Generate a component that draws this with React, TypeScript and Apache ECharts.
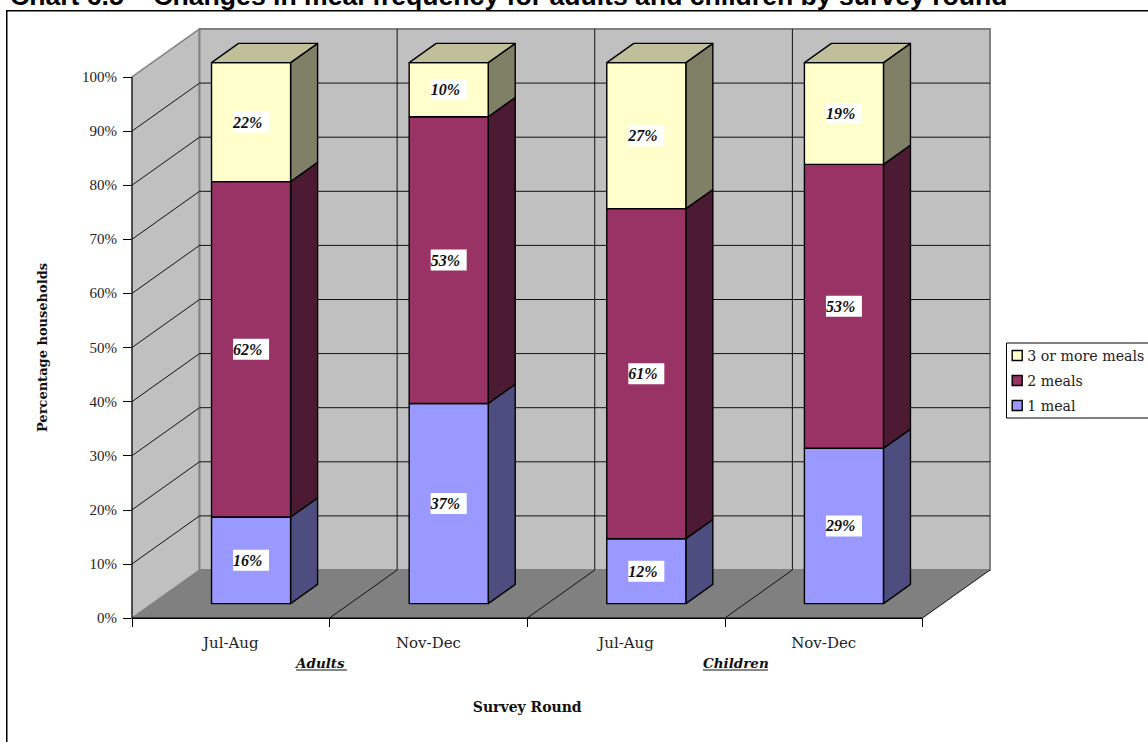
import React, { useEffect, useRef } from "react";
import * as echarts from "echarts";

const rounds = ["Jul-Aug", "Nov-Dec", "Jul-Aug", "Nov-Dec"];
const oneMeal = [16, 37, 12, 29];
const twoMeals = [62, 53, 61, 53];
const threeOrMore = [22, 10, 27, 19];
const percentTicks = [0, 10, 20, 30, 40, 50, 60, 70, 80, 90, 100];
const legendOrder = ["3 or more meals", "2 meals", "1 meal"];

// Depth of the box the columns stand in, in pixels.
const DEPTH_X = 67.5;
const DEPTH_Y = -48;
const BAR_FRONT = 0.3;
const BAR_DEPTH = 0.4;
const BAR_WIDTH = 0.4;

const LABEL_FONT = "Liberation Serif";
const WIDE_FONT = "DejaVu Serif";

type Shade = { front: string; side: string; top: string };

const shades: Record<string, Shade> = {
  "1 meal": { front: "#9999FF", side: "#4D4D80", top: "#7373BF" },
  "2 meals": { front: "#993366", side: "#4D1A33", top: "#73264D" },
  "3 or more meals": { front: "#FFFFCC", side: "#808066", top: "#BFBF99" },
};

const totals = rounds.map((_, i) => oneMeal[i] + twoMeals[i] + threeOrMore[i]);

// Each row: category index, 100%-stack start, 100%-stack end, stated value.
function stackRows(values: number[], below: number[][]) {
  return values.map((v, i) => {
    const base = below.reduce((sum, s) => sum + s[i], 0);
    return [i, (base / totals[i]) * 100, ((base + v) / totals[i]) * 100, v];
  });
}

function renderColumn(name: string, capped: boolean) {
  const shade = shades[name];
  return (_params: any, api: any) => {
    const i = api.value(0);
    const [cx, y0Plane] = api.coord([i, api.value(1)]);
    const [, y1Plane] = api.coord([i, api.value(2)]);
    const band = api.size([1, 0])[0];
    const w = band * BAR_WIDTH;
    const x0 = cx - w / 2 + DEPTH_X * BAR_FRONT;
    const x1 = x0 + w;
    const y0 = y0Plane + DEPTH_Y * BAR_FRONT;
    const y1 = y1Plane + DEPTH_Y * BAR_FRONT;
    const dx = DEPTH_X * BAR_DEPTH;
    const dy = DEPTH_Y * BAR_DEPTH;
    const edge = { stroke: "#000", lineWidth: 1.4, lineJoin: "round" };
    const midY = (y0 + y1) / 2;
    const midX = (x0 + x1) / 2;
    const children: any[] = [
      {
        type: "polygon",
        shape: { points: [[x1, y0], [x1 + dx, y0 + dy], [x1 + dx, y1 + dy], [x1, y1]] },
        style: { fill: shade.side, ...edge },
      },
      {
        type: "rect",
        shape: { x: x0, y: y1, width: w, height: y0 - y1 },
        style: { fill: shade.front, ...edge },
      },
    ];
    if (capped) {
      children.push({
        type: "polygon",
        shape: { points: [[x0, y1], [x0 + dx, y1 + dy], [x1 + dx, y1 + dy], [x1, y1]] },
        style: { fill: shade.top, ...edge },
      });
    }
    children.push(
      {
        type: "rect",
        shape: { x: midX - 18, y: midY - 10.5, width: 36, height: 21 },
        style: { fill: "#fff" },
      },
      {
        type: "text",
        style: {
          text: `${api.value(3)}%`,
          x: midX - 18,
          y: midY,
          align: "left",
          verticalAlign: "middle",
          fill: "#111",
          font: `italic bold 16px "${LABEL_FONT}"`,
        },
      }
    );
    return { type: "group", children };
  };
}

// Side wall, back wall, floor and the gridlines carried across them.
function renderBox(params: any, api: any) {
  const { x, y, width, height } = params.coordSys;
  const bottom = y + height;
  const children: any[] = [
    {
      type: "polygon",
      shape: { points: [[x, bottom], [x + DEPTH_X, bottom + DEPTH_Y], [x + DEPTH_X, y + DEPTH_Y], [x, y]] },
      style: { fill: "#C0C0C0", stroke: "#808080", lineWidth: 1.5 },
    },
    {
      type: "rect",
      shape: { x: x + DEPTH_X, y: y + DEPTH_Y, width, height },
      style: { fill: "#C0C0C0", stroke: "#808080", lineWidth: 2 },
    },
    {
      type: "polygon",
      shape: {
        points: [
          [x, bottom],
          [x + DEPTH_X, bottom + DEPTH_Y],
          [x + width + DEPTH_X, bottom + DEPTH_Y],
          [x + width, bottom],
        ],
      },
      style: { fill: "#808080" },
    },
  ];
  const line = { stroke: "#111", lineWidth: 1 };
  percentTicks.slice(1, -1).forEach((t) => {
    const py = api.coord([0, t])[1];
    children.push({
      type: "polyline",
      shape: { points: [[x, py], [x + DEPTH_X, py + DEPTH_Y], [x + width + DEPTH_X, py + DEPTH_Y]] },
      style: { fill: "none", ...line },
    });
  });
  const band = width / rounds.length;
  for (let k = 1; k <= rounds.length; k++) {
    const px = x + band * k;
    const onBack = k < rounds.length;
    children.push({
      type: "polyline",
      shape: {
        points: onBack
          ? [[px, bottom], [px + DEPTH_X, bottom + DEPTH_Y], [px + DEPTH_X, y + DEPTH_Y]]
          : [[px, bottom], [px + DEPTH_X, bottom + DEPTH_Y]],
      },
      style: { fill: "none", ...line },
    });
  }
  // Front edges of the box sit over the wall and floor fills.
  children.push(
    { type: "line", shape: { x1: x, y1: y, x2: x, y2: bottom }, style: { stroke: "#000", lineWidth: 1 } },
    { type: "line", shape: { x1: x, y1: bottom, x2: x + width, y2: bottom }, style: { stroke: "#000", lineWidth: 1 } }
  );
  return { type: "group", children };
}

const columnSeries = (name: string, rows: number[][], capped: boolean) => ({
  type: "custom",
  name,
  silent: true,
  z: 3,
  itemStyle: { color: shades[name].front },
  renderItem: renderColumn(name, capped),
  encode: { x: 0, y: 2 },
  data: rows,
});

export default function App() {
  const host = useRef<HTMLDivElement>(null);

  useEffect(() => {
    const chart = echarts.init(host.current!, undefined, { renderer: "svg" });
    chart.setOption({
      animation: false,
      backgroundColor: "#fff",
      title: {
        text: "Chart 6.5 – Changes in meal frequency for adults and children by survey round",
        left: 10,
        top: -17.5,
        padding: 0,
        textStyle: { fontFamily: "Liberation Sans", fontWeight: "bold", fontSize: 26.6, color: "#000" },
      },
      grid: { left: 132, top: 77, width: 790.5, height: 541 },
      xAxis: {
        type: "category",
        data: rounds,
        name: "Survey Round",
        nameLocation: "middle",
        nameGap: 82,
        nameTextStyle: { fontFamily: WIDE_FONT, fontWeight: "bold", fontSize: 14, color: "#111" },
        axisLine: { show: true, lineStyle: { color: "#000", width: 1 } },
        axisTick: { show: true, alignWithLabel: false, length: 9, lineStyle: { color: "#000", width: 1 } },
        axisLabel: { margin: 17, fontFamily: WIDE_FONT, fontSize: 15, color: "#222" },
      },
      yAxis: {
        type: "value",
        min: 0,
        max: 100,
        interval: 10,
        name: "Percentage households",
        nameLocation: "middle",
        nameGap: 83,
        nameTextStyle: { fontFamily: WIDE_FONT, fontWeight: "bold", fontSize: 13, color: "#111" },
        splitLine: { show: false },
        axisLine: { show: true, lineStyle: { color: "#000", width: 1 } },
        axisTick: { show: true, length: 9, lineStyle: { color: "#000", width: 1 } },
        axisLabel: { margin: 15, formatter: "{value}%", fontFamily: LABEL_FONT, fontSize: 15, color: "#222" },
      },
      legend: {
        orient: "vertical",
        left: 1006.5,
        top: 343,
        data: legendOrder,
        selectedMode: false,
        backgroundColor: "#fff",
        borderColor: "#000",
        borderWidth: 1,
        padding: [5, 5, 5, 5],
        itemGap: 10,
        itemWidth: 10,
        itemHeight: 10,
        icon: "rect",
        itemStyle: { borderColor: "#000", borderWidth: 1.4 },
        textStyle: { fontFamily: WIDE_FONT, fontSize: 14.2, color: "#222", lineHeight: 15 },
      },
      graphic: [
        {
          type: "rect",
          silent: true,
          shape: { x: 6.75, y: 10.75, width: 1400, height: 1000 },
          style: { fill: "none", stroke: "#000", lineWidth: 1.5 },
        },
        {
          type: "text",
          x: 296,
          y: 656,
          style: { text: "Adults", fill: "#111", font: `italic bold 13.5px "${WIDE_FONT}"` },
        },
        { type: "line", shape: { x1: 296, y1: 670, x2: 347, y2: 670 }, style: { stroke: "#111", lineWidth: 1 } },
        {
          type: "text",
          x: 703,
          y: 656,
          style: { text: "Children", fill: "#111", font: `italic bold 13.5px "${WIDE_FONT}"` },
        },
        { type: "line", shape: { x1: 703, y1: 670, x2: 768, y2: 670 }, style: { stroke: "#111", lineWidth: 1 } },
      ],
      series: [
        {
          type: "custom",
          silent: true,
          z: 1,
          renderItem: renderBox,
          encode: { x: 0, y: 1 },
          data: [[0, 0]],
        },
        columnSeries("1 meal", stackRows(oneMeal, []), false),
        columnSeries("2 meals", stackRows(twoMeals, [oneMeal]), false),
        columnSeries("3 or more meals", stackRows(threeOrMore, [oneMeal, twoMeals]), true),
      ],
    });
    return () => chart.dispose();
  }, []);

  return <div ref={host} style={{ position: "absolute", left: 0, top: 0, width: 1148, height: 742 }} />;
}
